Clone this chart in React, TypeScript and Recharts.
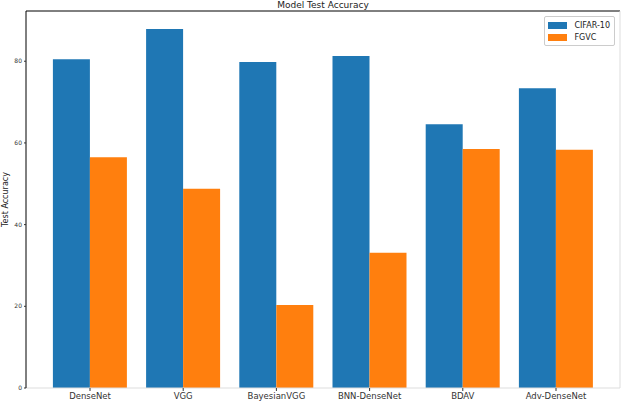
import { BarChart, Bar, XAxis, YAxis, Legend, Label } from 'recharts';

const models = ['DenseNet', 'VGG', 'BayesianVGG', 'BNN-DenseNet', 'BDAV', 'Adv-DenseNet'];
const cifar10 = [80.5, 87.9, 79.8, 81.3, 64.6, 73.4];
const fgvc = [56.5, 48.8, 20.3, 33.1, 58.5, 58.3];
const yTicks = [0, 20, 40, 60, 80];

const data = models.map((model, i) => ({ model, cifar10: cifar10[i], fgvc: fgvc[i] }));

const FONT = '"DejaVu Sans", sans-serif';

function LegendBox({ payload }: any) {
  return (
    <div
      style={{
        border: '1px solid #cccccc',
        borderRadius: 2,
        background: '#fff',
        padding: '2px 4px 1px 3px',
        fontFamily: FONT,
        fontSize: 8,
        color: '#222',
      }}
    >
      {(payload || []).map((p: any) => (
        <div key={p.value} style={{ display: 'flex', alignItems: 'center', height: 12.5 }}>
          <span style={{ display: 'inline-block', width: 19, height: 7, background: p.color, marginRight: 7 }} />
          <span>{p.value}</span>
        </div>
      ))}
    </div>
  );
}

export default function App() {
  return (
    <div style={{ position: 'absolute', left: 0, top: 0, background: '#fff', fontFamily: FONT }}>
      <BarChart
        width={622}
        height={402}
        data={data}
        margin={{ top: 10, right: 1, left: 0, bottom: 0 }}
        barCategoryGap={9.5}
        barGap={0}
      >
        <XAxis
          dataKey="model"
          height={14}
          padding={{ left: 17.4, right: 17.4 }}
          axisLine={{ stroke: '#dddddd' }}
          tickLine={{ stroke: '#333' }}
          tickSize={3}
          tick={{ fontSize: 8.5, fill: '#333', fontFamily: FONT }}
          interval={0}
        />
        <XAxis
          xAxisId="top"
          dataKey="model"
          orientation="top"
          height={1}
          axisLine={{ stroke: '#000' }}
          tick={false}
          tickLine={false}
        >
          <Label value="Model Test Accuracy" position="top" offset={2} style={{ fontSize: 9, fill: '#222', fontFamily: FONT }} />
        </XAxis>
        <YAxis
          width={26}
          domain={[0, 92.3]}
          ticks={yTicks}
          axisLine={{ stroke: '#000' }}
          tickLine={{ stroke: '#333' }}
          tickSize={2}
          tick={{ fontSize: 6, fill: '#333', fontFamily: FONT }}
        >
          <Label
            value="Test Accuracy"
            angle={-90}
            position="insideLeft"
            offset={5}
            style={{ fontSize: 8, fill: '#222', fontFamily: FONT, textAnchor: 'middle' }}
          />
        </YAxis>
        <YAxis
          yAxisId="right"
          orientation="right"
          width={1}
          axisLine={{ stroke: '#dddddd' }}
          tick={false}
          tickLine={false}
        />
        <Legend
          layout="horizontal"
          verticalAlign="middle"
          align="center"
          content={<LegendBox />}
          wrapperStyle={{ top: 16, right: 7, left: 'auto', width: 'auto' }}
        />
        <Bar dataKey="cifar10" name="CIFAR-10" fill="#1f77b4" isAnimationActive={false} />
        <Bar dataKey="fgvc" name="FGVC" fill="#ff7f0e" isAnimationActive={false} />
      </BarChart>
    </div>
  );
}
